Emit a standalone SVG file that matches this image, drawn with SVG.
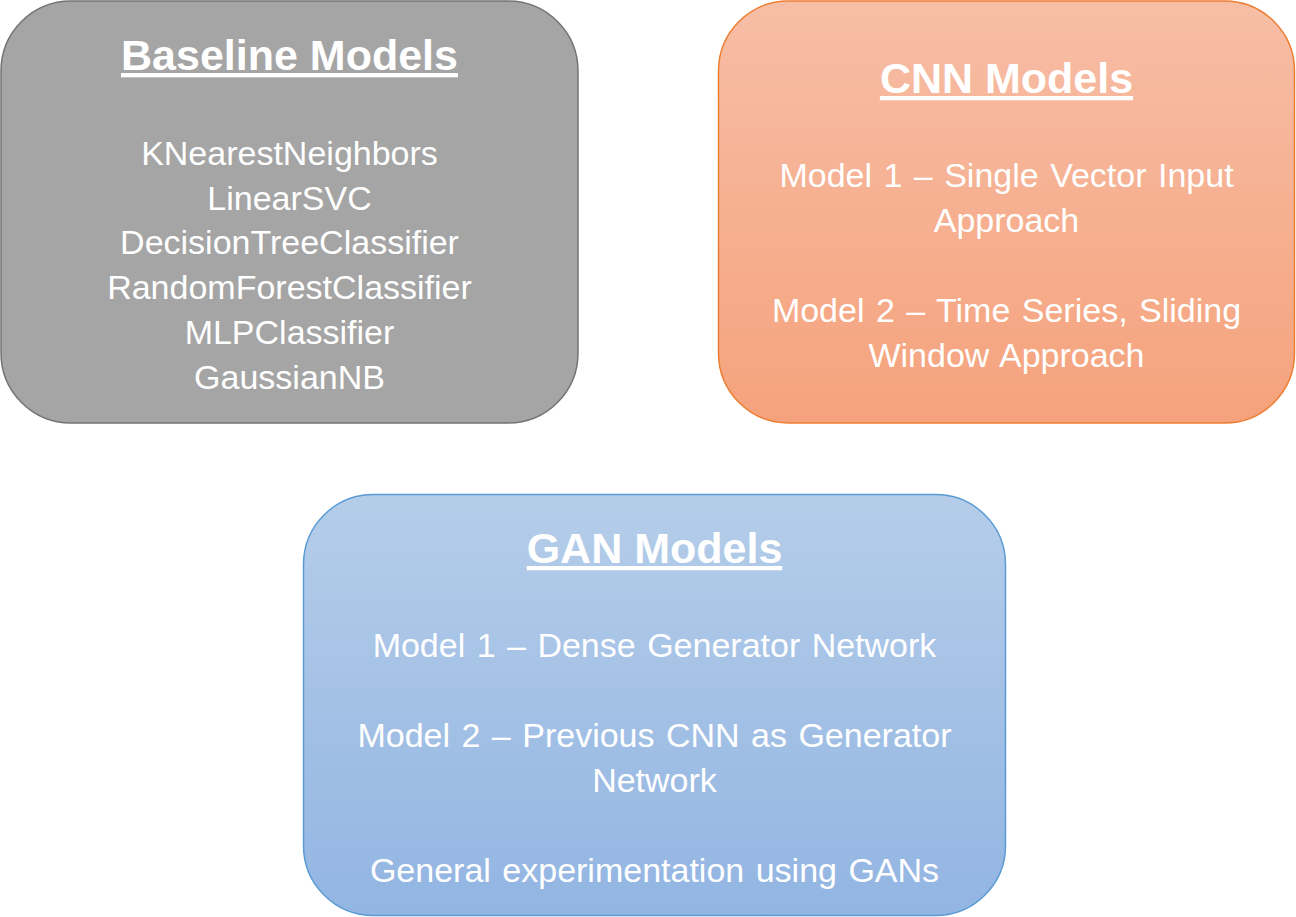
<svg xmlns="http://www.w3.org/2000/svg" width="1296" height="917" viewBox="0 0 1296 917">
  <defs>
    <linearGradient id="gOrange" x1="0" y1="0" x2="0" y2="1">
      <stop offset="0" stop-color="#f7bea6"/>
      <stop offset="1" stop-color="#f5a27c"/>
    </linearGradient>
    <linearGradient id="gBlue" x1="0" y1="0" x2="0" y2="1">
      <stop offset="0" stop-color="#b5cde9"/>
      <stop offset="1" stop-color="#92b5e2"/>
    </linearGradient>
  </defs>
  <style>
    .box { stroke-width: 1.5; }
    .title { font-family: "Liberation Sans", Arial, sans-serif; font-weight: bold; font-size: 43px; fill: #ffffff; text-anchor: middle; text-decoration: underline; }
    .body { font-family: "Liberation Sans", Arial, sans-serif; font-size: 34px; word-spacing: 2px; fill: #ffffff; text-anchor: middle; }
  </style>
  <rect width="1296" height="917" fill="#ffffff"/>

  <g id="baseline-models">
    <rect class="box" x="1" y="1" width="577" height="422" rx="70" ry="70" fill="#a5a5a5" stroke="#737373"/>
    <text class="title" x="289.5" y="70">Baseline Models</text>
    <text class="body" x="289.5" y="165">KNearestNeighbors</text>
    <text class="body" x="289.5" y="210">LinearSVC</text>
    <text class="body" x="289.5" y="254">DecisionTreeClassifier</text>
    <text class="body" x="289.5" y="299">RandomForestClassifier</text>
    <text class="body" x="289.5" y="344">MLPClassifier</text>
    <text class="body" x="289.5" y="389">GaussianNB</text>
  </g>

  <g id="cnn-models">
    <rect class="box" x="718.5" y="1" width="576" height="422" rx="70" ry="70" fill="url(#gOrange)" stroke="#ed7d31"/>
    <text class="title" x="1006.5" y="93">CNN Models</text>
    <text class="body" x="1006.5" y="187">Model 1 – Single Vector Input</text>
    <text class="body" x="1006.5" y="232">Approach</text>
    <text class="body" x="1006.5" y="322">Model 2 – Time Series, Sliding</text>
    <text class="body" x="1006.5" y="367">Window Approach</text>
  </g>

  <g id="gan-models">
    <rect class="box" x="303.5" y="494.5" width="702" height="421" rx="70" ry="70" fill="url(#gBlue)" stroke="#5b9bd5"/>
    <text class="title" x="654.5" y="563">GAN Models</text>
    <text class="body" x="654.5" y="657">Model 1 – Dense Generator Network</text>
    <text class="body" x="654.5" y="747">Model 2 – Previous CNN as Generator</text>
    <text class="body" x="654.5" y="792">Network</text>
    <text class="body" x="654.5" y="882">General experimentation using GANs</text>
  </g>

  <g id="connectors"/>
</svg>
